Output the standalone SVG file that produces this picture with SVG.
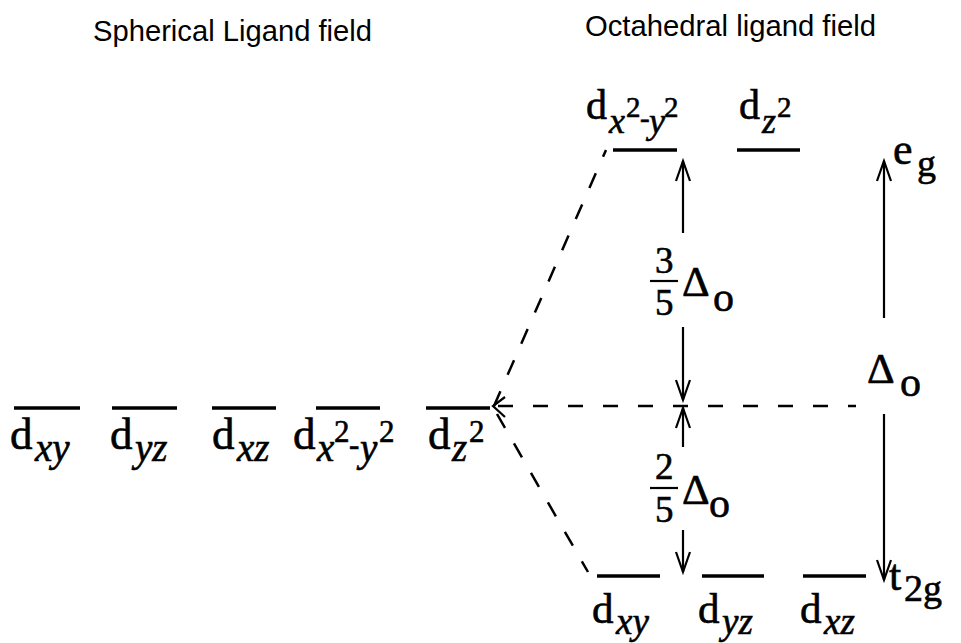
<svg xmlns="http://www.w3.org/2000/svg" width="961" height="643" viewBox="0 0 961 643">
<style>
.title{font-family:"Liberation Sans",Arial,sans-serif;font-size:29px;fill:#000}
.m{font-family:"Liberation Serif","Times New Roman",serif;fill:#000;stroke:#000;stroke-width:0.6}
.d{font-size:45px}
.s{font-size:39px;font-style:italic}
.p{font-size:31px;font-style:normal}
.fr{font-size:37px}
.lvl{stroke:#000;stroke-width:3.5;fill:none}
.dash{stroke:#000;stroke-width:2.5;fill:none;stroke-dasharray:16 18}
.ar{stroke:#000;stroke-width:2.2;fill:none}
</style>
<rect width="961" height="643" fill="#fff"/>
<text class="title" x="93" y="41" textLength="279" lengthAdjust="spacingAndGlyphs">Spherical Ligand field</text>
<text class="title" x="585" y="36" textLength="291" lengthAdjust="spacingAndGlyphs">Octahedral ligand field</text>

<g id="spherical">
<line class="lvl" x1="14" y1="408" x2="80" y2="408"/>
<line class="lvl" x1="112" y1="408" x2="177" y2="408"/>
<line class="lvl" x1="212" y1="408" x2="276" y2="408"/>
<line class="lvl" x1="316" y1="408" x2="380" y2="408"/>
<line class="lvl" x1="426" y1="408" x2="490" y2="408"/>
<text class="m d" x="10" y="449">d<tspan class="s" x="35" y="461">xy</tspan></text>
<text class="m d" x="110" y="449">d<tspan class="s" x="135" y="461">yz</tspan></text>
<text class="m d" x="212" y="449">d<tspan class="s" x="237" y="461">xz</tspan></text>
<text class="m d" x="293" y="449">d<tspan class="s" x="317" y="461">x</tspan><tspan class="p" x="334" y="442">2</tspan><tspan class="p" x="349" y="455">-</tspan><tspan class="s" x="360" y="461">y</tspan><tspan class="p" x="379" y="442">2</tspan></text>
<text class="m d" x="428" y="449">d<tspan class="s" x="452" y="461">z</tspan><tspan class="p" x="469" y="442">2</tspan></text>
</g>

<g id="eg-levels">
<line class="lvl" x1="613" y1="150" x2="677" y2="150"/>
<line class="lvl" x1="737" y1="150" x2="800" y2="150"/>
<text class="m" x="586" y="119" style="font-size:42px">d<tspan class="s" style="font-size:36px" x="609" y="133">x</tspan><tspan class="p" style="font-size:29px" x="626" y="117">2</tspan><tspan class="p" style="font-size:29px" x="640" y="128">-</tspan><tspan class="s" style="font-size:36px" x="649" y="133">y</tspan><tspan class="p" style="font-size:29px" x="664" y="117">2</tspan></text>
<text class="m" x="739" y="119" style="font-size:42px">d<tspan class="s" style="font-size:36px" x="762" y="133">z</tspan><tspan class="p" style="font-size:29px" x="777" y="117">2</tspan></text>
<text class="m" x="893" y="164" style="font-size:44px">e<tspan style="font-size:38px" x="917" y="176">g</tspan></text>
</g>

<g id="t2g-levels">
<line class="lvl" x1="597" y1="576" x2="660" y2="576"/>
<line class="lvl" x1="702" y1="576" x2="764" y2="576"/>
<line class="lvl" x1="803" y1="576" x2="866" y2="576"/>
<text class="m" x="592" y="623" style="font-size:43px">d<tspan class="s" style="font-size:37px" x="616" y="634">xy</tspan></text>
<text class="m" x="698" y="623" style="font-size:43px">d<tspan class="s" style="font-size:37px" x="722" y="634">yz</tspan></text>
<text class="m" x="800" y="623" style="font-size:43px">d<tspan class="s" style="font-size:37px" x="824" y="634">xz</tspan></text>
<text class="m" x="889" y="590" style="font-size:44px">t<tspan style="font-size:38px" x="904" y="601">2g</tspan></text>
</g>

<g id="connectors">
<line class="dash" x1="494" y1="406" x2="606" y2="150"/>
<line class="dash" x1="497" y1="414" x2="588" y2="572"/>
<line class="dash" x1="498" y1="406" x2="856" y2="406" style="stroke-dasharray:15 20"/>
<path class="ar" d="M505 397 L493 406 L505 417"/>
<line class="ar" x1="683" y1="161" x2="683" y2="233"/>
<path class="ar" d="M676 181 L683 161 L690 181"/>
<line class="ar" x1="683" y1="327" x2="683" y2="400"/>
<path class="ar" d="M676 380 L683 400 L690 380"/>
<line class="ar" x1="683" y1="408" x2="683" y2="447"/>
<path class="ar" d="M676 428 L683 408 L690 428"/>
<line class="ar" x1="683" y1="530" x2="683" y2="572"/>
<path class="ar" d="M676 552 L683 572 L690 552"/>
<line class="ar" x1="884" y1="161" x2="884" y2="318"/>
<path class="ar" d="M877 181 L884 161 L891 181"/>
<line class="ar" x1="884" y1="414" x2="884" y2="580"/>
<path class="ar" d="M877 560 L884 580 L891 560"/>
</g>

<g id="labels">
<text class="m fr" x="655" y="273">3</text>
<line x1="650" y1="281" x2="678" y2="281" stroke="#000" stroke-width="2.2"/>
<text class="m fr" x="655" y="315">5</text>
<text class="m" x="682" y="296" style="font-size:43px">Δ<tspan style="font-size:42px" x="713" y="311">o</tspan></text>
<text class="m fr" x="655" y="479">2</text>
<line x1="650" y1="488" x2="678" y2="488" stroke="#000" stroke-width="2.2"/>
<text class="m fr" x="655" y="522">5</text>
<text class="m" x="682" y="504" style="font-size:43px">Δ<tspan style="font-size:42px" x="709" y="517">o</tspan></text>
<text class="m" x="867" y="383" style="font-size:43px">Δ<tspan style="font-size:42px" x="900" y="396">o</tspan></text>
</g>
</svg>
